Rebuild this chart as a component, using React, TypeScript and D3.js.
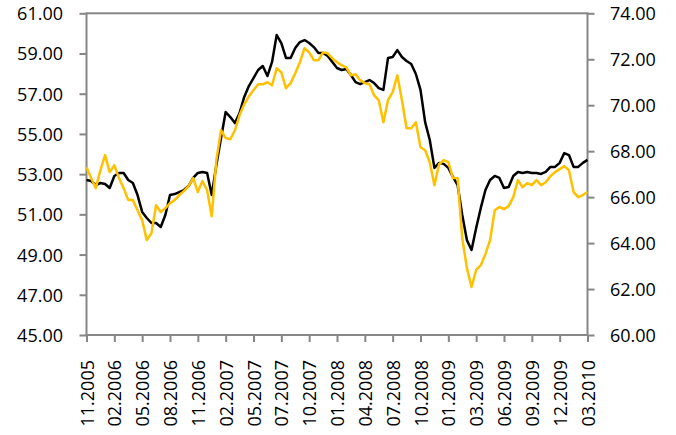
import React, { useEffect, useRef } from 'react';
import * as d3 from 'd3';

// category labels, one every 6 samples
const dateLabels = [
  '11.2005', '02.2006', '05.2006', '08.2006', '11.2006', '02.2007', '05.2007',
  '07.2007', '10.2007', '01.2008', '04.2008', '07.2008', '10.2008', '01.2009',
  '03.2009', '06.2009', '09.2009', '12.2009', '03.2010',
];

// black series, left axis
const blackValues = [
  52.71, 52.66, 52.46, 52.56, 52.51, 52.31, 52.91, 53.06, 53.06, 52.71, 52.56, 51.96,
  51.12, 50.82, 50.57, 50.57, 50.37, 50.97, 51.96, 52.01, 52.11, 52.21, 52.41, 52.81,
  53.06, 53.11, 53.06, 51.96, 53.46, 54.80, 56.09, 55.84, 55.54, 56.04, 56.84, 57.38,
  57.78, 58.18, 58.38, 57.88, 58.58, 59.92, 59.52, 58.78, 58.78, 59.27, 59.57, 59.67,
  59.52, 59.32, 59.03, 59.03, 58.88, 58.58, 58.28, 58.18, 58.23, 57.93, 57.58, 57.48,
  57.58, 57.68, 57.53, 57.28, 57.19, 58.78, 58.83, 59.17, 58.83, 58.63, 58.48, 57.98,
  57.19, 55.59, 54.70, 53.31, 53.56, 53.51, 53.31, 52.86, 52.46, 50.97, 49.72, 49.23,
  50.32, 51.32, 52.21, 52.71, 52.91, 52.81, 52.31, 52.36, 52.91, 53.11, 53.06, 53.11,
  53.06, 53.06, 53.01, 53.11, 53.36, 53.36, 53.56, 54.05, 53.95, 53.36, 53.36, 53.56,
  53.71,
];

// gold series, right axis
const goldValues = [
  67.30, 66.83, 66.39, 67.17, 67.83, 67.09, 67.39, 66.83, 66.39, 65.87, 65.87, 65.43,
  65.00, 64.13, 64.43, 65.65, 65.35, 65.52, 65.74, 65.87, 66.09, 66.26, 66.48, 66.83,
  66.22, 66.70, 66.30, 65.17, 67.61, 68.91, 68.57, 68.52, 68.91, 69.57, 70.04, 70.39,
  70.65, 70.91, 70.91, 71.00, 70.87, 71.61, 71.43, 70.74, 70.96, 71.39, 71.87, 72.48,
  72.30, 71.96, 71.96, 72.30, 72.26, 72.04, 71.87, 71.74, 71.65, 71.30, 71.35, 71.09,
  70.96, 70.91, 70.43, 70.22, 69.26, 70.22, 70.57, 71.30, 70.22, 69.00, 69.00, 69.26,
  68.17, 68.04, 67.52, 66.52, 67.43, 67.61, 67.52, 66.83, 66.83, 64.22, 62.91, 62.09,
  62.83, 63.04, 63.52, 64.13, 65.43, 65.57, 65.48, 65.61, 66.00, 66.74, 66.43, 66.61,
  66.52, 66.74, 66.52, 66.65, 66.91, 67.09, 67.22, 67.35, 67.17, 66.22, 66.00, 66.09,
  66.22,
];

const leftTicks = [45, 47, 49, 51, 53, 55, 57, 59, 61];
const rightTicks = [60, 62, 64, 66, 68, 70, 72, 74];

const App = () => {
  const svgRef = useRef(null);

  useEffect(() => {
    const width = 676;
    const height = 435;
    const left = 86.5, right = 587.5, top = 13.3, bottom = 335;
    const axisColor = '#868686';
    const font = "'Open Sans', sans-serif";

    const svg = d3.select(svgRef.current)
      .attr('width', width)
      .attr('height', height);
    svg.selectAll('*').remove();

    const n = blackValues.length - 1;
    const step = n / (dateLabels.length - 1);

    const x = d3.scaleLinear().domain([0, n]).range([left, right]);
    const yLeft = d3.scaleLinear().domain([45, 61]).range([bottom, top]);
    const yRight = d3.scaleLinear().domain([60, 74]).range([bottom, top]);

    // plot frame
    svg.append('rect')
      .attr('x', left)
      .attr('y', top)
      .attr('width', right - left)
      .attr('height', bottom - top)
      .attr('fill', 'none')
      .attr('stroke', axisColor)
      .attr('stroke-width', 2);

    const styleAxis = (g) => {
      g.select('.domain').remove();
      g.selectAll('line').attr('stroke', axisColor).attr('stroke-width', 2);
      g.selectAll('text')
        .attr('fill', '#000')
        .style('font-family', font)
        .style('font-size', '18px');
    };

    svg.append('g')
      .attr('transform', `translate(${left},0)`)
      .call(d3.axisLeft(yLeft).tickValues(leftTicks).tickSize(7).tickPadding(16.5).tickFormat(d3.format('.2f')))
      .call(styleAxis)
      .selectAll('text').attr('dy', '0.36em');

    svg.append('g')
      .attr('transform', `translate(${right},0)`)
      .call(d3.axisRight(yRight).tickValues(rightTicks).tickSize(7).tickPadding(15.5).tickFormat(d3.format('.2f')))
      .call(styleAxis)
      .selectAll('text').attr('dy', '0.36em');

    const xAxis = svg.append('g')
      .attr('transform', `translate(0,${bottom})`)
      .call(d3.axisBottom(x)
        .tickValues(dateLabels.map((_, i) => i * step))
        .tickSize(7)
        .tickFormat((d) => dateLabels[Math.round(+d / step)]))
      .call(styleAxis);

    xAxis.selectAll('text')
      .attr('transform', 'rotate(-90)')
      .attr('text-anchor', 'end')
      .attr('x', -25)
      .attr('y', 6.5)
      .attr('dy', 0);

    const lineBlack = d3.line()
      .x((_, i) => x(i))
      .y((d) => yLeft(d));

    const lineGold = d3.line()
      .x((_, i) => x(i))
      .y((d) => yRight(d));

    svg.append('path')
      .datum(blackValues)
      .attr('fill', 'none')
      .attr('stroke', '#000000')
      .attr('stroke-width', 2.5)
      .attr('stroke-linejoin', 'round')
      .attr('d', lineBlack);

    svg.append('path')
      .datum(goldValues)
      .attr('fill', 'none')
      .attr('stroke', '#FFC000')
      .attr('stroke-width', 2.5)
      .attr('stroke-linejoin', 'round')
      .attr('d', lineGold);
  }, []);

  return (
    <svg ref={svgRef} style={{ position: 'absolute', left: 0, top: 0 }}></svg>
  );
};

export default App;
